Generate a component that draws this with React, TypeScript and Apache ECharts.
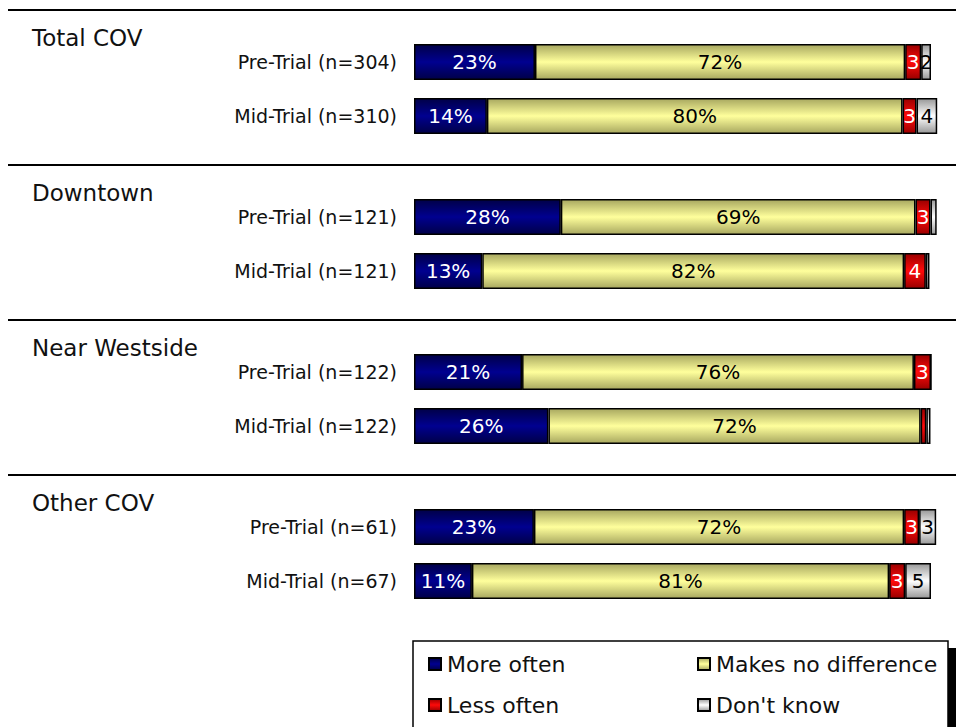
import React, { useEffect, useRef } from "react";
import * as echarts from "echarts";

const groups = ["Total COV", "Downtown", "Near Westside", "Other COV"];
const rowLabels = [
  ["Pre-Trial (n=304)", "Mid-Trial (n=310)"],
  ["Pre-Trial (n=121)", "Mid-Trial (n=121)"],
  ["Pre-Trial (n=122)", "Mid-Trial (n=122)"],
  ["Pre-Trial (n=61)", "Mid-Trial (n=67)"],
];
const moreOften = [[23.4, 14.1], [28.4, 13.2], [20.9, 26.0], [23.2, 11.2]];
const noDifference = [[71.6, 80.4], [68.6, 81.6], [75.8, 72.0], [71.6, 80.7]];
const lessOften = [[3.1, 2.7], [2.9, 4.2], [3.3, 1.1], [2.9, 3.1]];
const dontKnow = [[1.9, 4.0], [1.2, 0.7], [0.0, 0.8], [3.3, 5.0]];

const seriesNames = ["More often", "Makes no difference", "Less often", "Don't know"];
const FONT = "DejaVu Sans";

const grad = (edge: string, mid: string) =>
  new echarts.graphic.LinearGradient(0, 0, 0, 1, [
    { offset: 0, color: edge },
    { offset: 0.5, color: mid },
    { offset: 1, color: edge },
  ]);

export default function App() {
  const ref = useRef<HTMLDivElement>(null);
  useEffect(() => {
    if (!ref.current) return;
    const chart = echarts.init(ref.current, null, { renderer: "svg" });
    const dataSets = [moreOften, noDifference, lessOften, dontKnow];
    const colors = [
      grad("#000048", "#000090"),
      grad("#a8a860", "#ffff9c"),
      grad("#9a0000", "#ff0a0a"),
      grad("#989898", "#ffffff"),
    ];
    const labelColors = ["#fff", "#000", "#fff", "#000"];
    const withPct = [true, true, false, false];

    const grids: any[] = [];
    const xAxes: any[] = [];
    const yAxes: any[] = [];
    const series: any[] = [];
    const graphic: any[] = [];

    groups.forEach((g, gi) => {
      const top = 35 + 155 * gi;
      grids.push({ left: 414, top, width: 517, height: 108 });
      xAxes.push({ type: "value", gridIndex: gi, min: 0, max: 100, show: false });
      yAxes.push({
        type: "category",
        gridIndex: gi,
        data: rowLabels[gi],
        inverse: true,
        axisLine: { show: false },
        axisTick: { show: false },
        splitLine: { show: false },
        axisLabel: { margin: 17, fontSize: 19, color: "#111", fontFamily: FONT },
      });
      dataSets.forEach((ds, si) => {
        series.push({
          type: "bar",
          name: seriesNames[si],
          xAxisIndex: gi,
          yAxisIndex: gi,
          stack: "s" + gi,
          barWidth: 36,
          clip: false,
          data: ds[gi],
          itemStyle: { color: colors[si], borderColor: "#000", borderWidth: 1.5 },
          label: {
            show: true,
            position: "inside",
            color: labelColors[si],
            fontSize: 20,
            fontFamily: FONT,
            formatter: (p: any) =>
              p.value < 1.5 ? "" : Math.round(p.value) + (withPct[si] ? "%" : ""),
          },
        });
      });
      graphic.push({
        type: "line",
        shape: { x1: 8, y1: 10 + 155 * gi, x2: 956, y2: 10 + 155 * gi },
        style: { stroke: "#000", lineWidth: 2 },
      });
      graphic.push({
        type: "text",
        left: 32,
        top: 26 + 155 * gi,
        style: { text: g, fontSize: 23, fontFamily: FONT, fill: "#111" },
      });
    });

    graphic.push({
      type: "rect",
      shape: { x: 948, y: 648, width: 8, height: 90 },
      style: { fill: "#000" },
    });
    graphic.push({
      type: "rect",
      shape: { x: 413, y: 641, width: 535, height: 100 },
      style: { fill: "#fff", stroke: "#000", lineWidth: 1.5 },
    });

    const legendCommon = {
      orient: "vertical",
      top: 652,
      padding: 0,
      itemGap: 17,
      itemWidth: 12,
      itemHeight: 12,
      icon: "rect",
      selectedMode: false,
      textStyle: { fontSize: 22, fontFamily: FONT, color: "#111", lineHeight: 24, padding: [0, 0, 0, 1] },
      z: 10,
    };

    chart.setOption({
      animation: false,
      grid: grids,
      xAxis: xAxes,
      yAxis: yAxes,
      series,
      graphic,
      legend: [
        { ...legendCommon, left: 428, data: ["More often", "Less often"] },
        { ...legendCommon, left: 697, data: ["Makes no difference", "Don't know"] },
      ],
    });
    return () => chart.dispose();
  }, []);
  return (
    <div
      ref={ref}
      style={{ position: "absolute", left: 0, top: 0, width: 956, height: 727 }}
    />
  );
}
